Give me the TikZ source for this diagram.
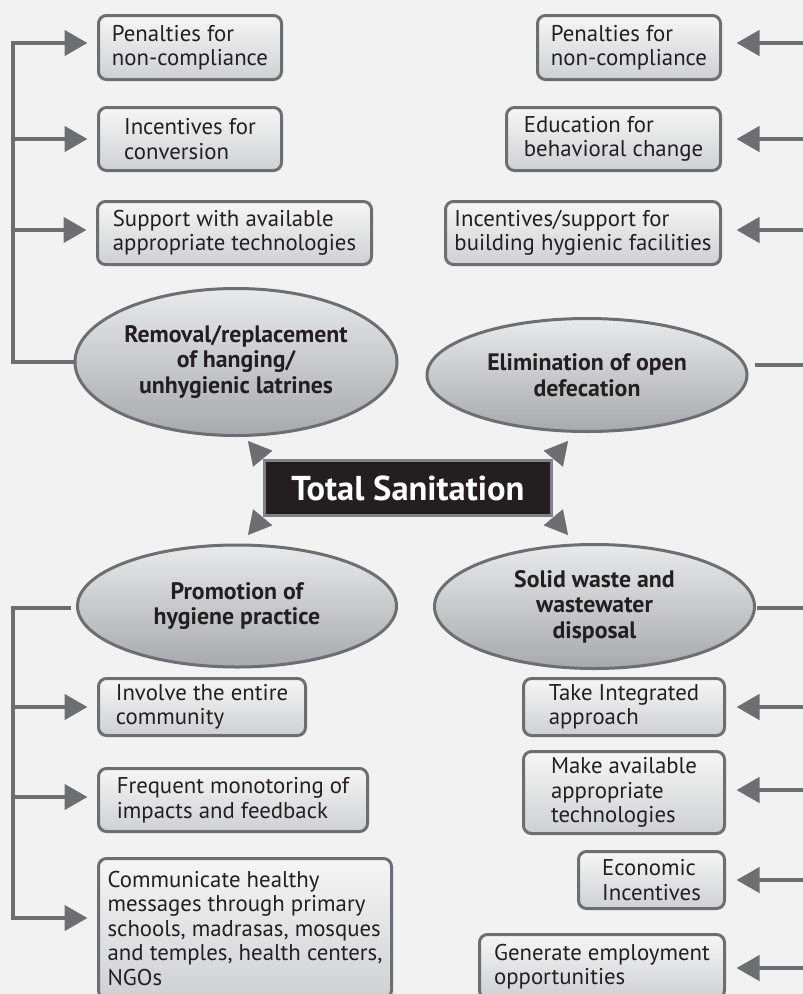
\documentclass[tikz,border=0pt]{standalone}
\usepackage{fontspec}
\setmainfont{PT Sans}
\usetikzlibrary{arrows.meta,shapes.geometric,calc}

\definecolor{bgcol}{HTML}{F2F2F2}
\definecolor{linecol}{HTML}{6D6E71}
\definecolor{boxtop}{HTML}{F6F6F6}
\definecolor{boxbot}{HTML}{CFD0D2}
\definecolor{elltop}{HTML}{E9EAEB}
\definecolor{ellbot}{HTML}{A7A9AC}
\definecolor{hubfill}{HTML}{231F20}
\definecolor{hubedge}{HTML}{808285}
\definecolor{inkcol}{HTML}{231F20}

\tikzset{
  itembox/.style={draw=linecol, line width=3pt, rounded corners=8pt,
    top color=boxtop, bottom color=boxbot, align=left, inner sep=0pt,
    text=inkcol, font=\fontsize{22.8}{24.5}\selectfont},
  topic/.style={ellipse, draw=linecol, line width=3pt,
    top color=elltop, bottom color=ellbot, align=center, inner sep=0pt,
    text=inkcol, font=\fontsize{23.8}{25.5}\selectfont\bfseries},
  hub/.style={draw=hubedge, line width=3pt, fill=hubfill, text=white,
    inner sep=0pt, font=\fontsize{34.5}{36}\selectfont\bfseries},
  link/.style={draw=linecol, line width=4.5pt},
  feed/.style={link, -{Triangle[length=23pt,width=25pt]}},
  spark/.style={draw=linecol, fill=linecol, line width=0.1pt,
    -{Triangle[length=23pt,width=25pt]}},
}

\begin{document}
\begin{tikzpicture}[x=1pt,y=-1pt]
\useasboundingbox (0,0) rectangle (803,994);
\clip (0,0) rectangle (803,994);
\fill[bgcol] (0,0) rectangle (803,994);

% central theme
\node[hub, minimum width=287pt, minimum height=55pt] (ts) at (408,488) {Total Sanitation};

% four main components
\node[topic, minimum width=322pt, minimum height=147pt] (e1) at (236,362)
  {Removal/replacement\\of hanging/\\unhygienic latrines};
\node[topic, minimum width=320pt, minimum height=113pt] (e2) at (587,375)
  {Elimination of open\\defecation};
\node[topic, minimum width=319pt, minimum height=122pt] (e3) at (237,606)
  {Promotion of\\hygiene practice};
\node[topic, minimum width=320pt, minimum height=124pt] (e4) at (594.5,606.5)
  {Solid waste and\\wastewater\\disposal};

% short arrows from the central theme
\draw[spark] (ts.north west) -- ++(-15,-18);
\draw[spark] (ts.north east) -- ++(15,-18);
\draw[spark] (ts.south west) -- ++(-15,18);
\draw[spark] (ts.south east) -- ++(15,18);

% measures: latrines
\node[itembox, minimum width=183pt, minimum height=64pt] (lb1) at (190,47.5)
  {Penalties for\\non-compliance};
\node[itembox, minimum width=183pt, minimum height=63pt] (lb2) at (190,139)
  {Incentives for\\conversion};
\node[itembox, minimum width=274pt, minimum height=63pt] (lb3) at (234.5,233)
  {Support with available\\appropriate technologies};

% measures: open defecation
\node[itembox, minimum width=183pt, minimum height=64pt] (rb1) at (629,47.5)
  {Penalties for\\non-compliance};
\node[itembox, minimum width=214pt, minimum height=63pt] (rb2) at (613.5,139)
  {Education for\\behavioral change};
\node[itembox, minimum width=275pt, minimum height=63pt] (rb3) at (583,233)
  {Incentives/support for\\building hygienic facilities};

% measures: hygiene practice
\node[itembox, minimum width=207pt, minimum height=57pt] (lb4) at (202,707)
  {Involve the entire\\community};
\node[itembox, minimum width=269pt, minimum height=63pt] (lb5) at (233,800)
  {Frequent monotoring of\\impacts and feedback};
\node[itembox, minimum width=293pt, minimum height=140pt] (lb6) at (245,928.5)
  {Communicate healthy\\messages through primary\\schools, madrasas, mosques\\and temples, health centers,\\NGOs};

% measures: waste disposal
\node[itembox, minimum width=201pt, minimum height=57pt] (rb4) at (624,707)
  {Take Integrated\\approach};
\node[itembox, minimum width=201pt, minimum height=82pt] (rb5) at (624,792.5)
  {Make available\\appropriate\\technologies};
\node[itembox, minimum width=146pt, minimum height=57pt] (rb6) at (651.5,880)
  {Economic\\Incentives};
\node[itembox, minimum width=245pt, minimum height=64pt] (rb7) at (602,966.5)
  {Generate employment\\opportunities};

% left bracket, upper
\draw[feed, shorten >=9.5pt] (e1.west) -- (13,362) -- (13,43) -- (lb1.west |- 0,43);
\draw[feed, shorten >=9.5pt] (13,139) -- (lb2.west |- 0,139);
\draw[feed, shorten >=9.5pt] (13,230) -- (lb3.west |- 0,230);

% left bracket, lower
\draw[feed, shorten >=9.5pt] ($(e3.west)+(-5,2)$) -- (13,608) -- (13,918) -- (lb6.west |- 0,918);
\draw[feed, shorten >=9.5pt] (13,707) -- (lb4.west |- 0,707);
\draw[feed, shorten >=9.5pt] (13,797) -- (lb5.west |- 0,797);

% right bracket, upper (spine lies past the right edge)
\draw[link] ($(e2.east)+(6,-10)$) -- (810,365);
\draw[feed, shorten >=14.5pt] (810,43) -- (rb1.east |- 0,43);
\draw[feed, shorten >=14.5pt] (810,139) -- (rb2.east |- 0,139);
\draw[feed, shorten >=14.5pt] (810,230) -- (rb3.east |- 0,230);

% right bracket, lower
\draw[link] ($(e4.east)+(1,1.5)$) -- (810,608);
\draw[feed, shorten >=10.5pt] (810,707) -- (rb4.east |- 0,707);
\draw[feed, shorten >=10.5pt] (810,790) -- (rb5.east |- 0,790);
\draw[feed, shorten >=10.5pt] (810,880) -- (rb6.east |- 0,880);
\draw[feed, shorten >=10.5pt] (810,968) -- (rb7.east |- 0,968);
\end{tikzpicture}
\end{document}
